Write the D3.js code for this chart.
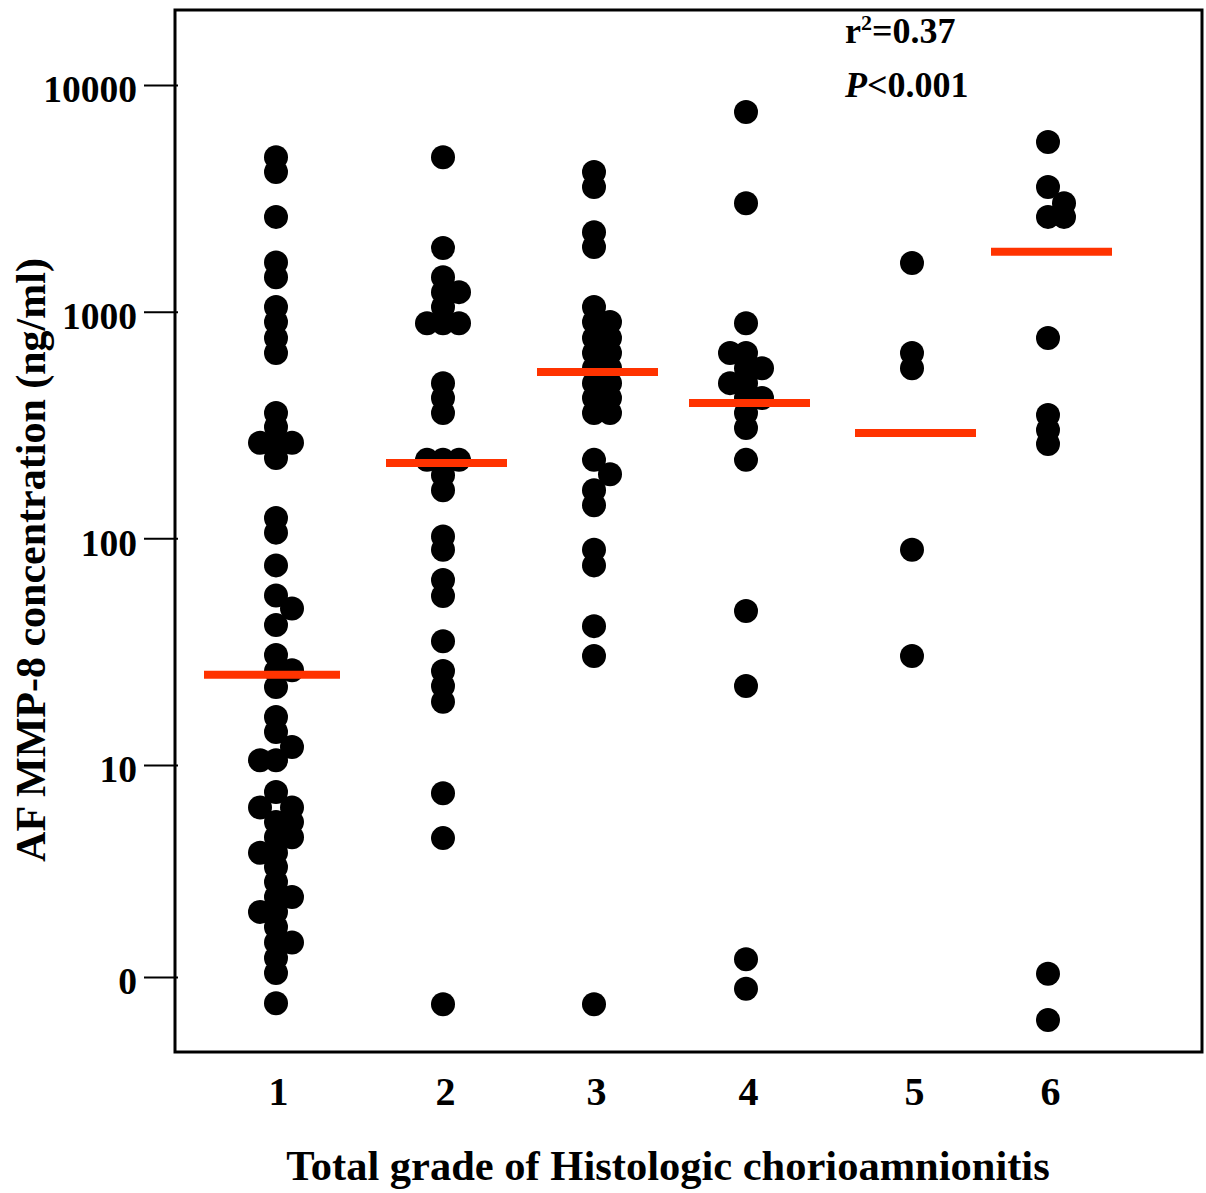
<!DOCTYPE html>
<html>
<head>
<meta charset="utf-8">
<script src="https://cdn.jsdelivr.net/npm/d3@7"></script>
<style>
  body { margin: 0; background: #fff; }
  text { font-family: "Liberation Serif", "Times New Roman", serif; font-weight: bold; fill: #000; }
</style>
</head>
<body>
<div class="container"></div>
<script>
// ---------- DATA ----------
var grades = [1, 2, 3, 4, 5, 6];
var gradeLabels = ["1", "2", "3", "4", "5", "6"];

var yTickValues = [1.16, 10, 100, 1000, 10000];
var yTickLabels = ["0", "10", "100", "1000", "10000"];

// AF MMP-8 (ng/ml) per grade, and which column of the dot strip each point sits in (-1 left, 0 middle, 1 right)
var grade1 = [4800, 4130, 2620, 1650, 1420, 1050, 900, 765, 658, 357, 310, 264, 264, 264, 226, 123, 106, 76, 56, 49,
              41.5, 30.6, 26.2, 25.9, 22.1, 16.3, 14, 12, 10.5, 10.5, 7.6, 6.5, 6.5, 5.6, 5.6, 4.8, 4.8, 4.1, 4.1,
              3.55, 3.05, 2.62, 2.62, 2.25, 2.25, 1.93, 1.65, 1.65, 1.41, 1.21, 0.89];
var lanes1 = [0,0,0,0,0,0,0,0,0,0,0, -1,0,1, 0,0,0,0,0, 1, 0,0, 1, 0,0,0,0, 1, -1,0, 0, -1,1, 0,1, 0,1, -1,0,
              0,0,0, 1, -1,0, 0,0, 1, 0,0,0];
var grade2 = [4800, 1910, 1420, 1220, 1220, 1050, 890, 890, 890, 484, 416, 357, 222, 222, 222, 190, 163, 102, 89,
              65.5, 55.7, 35.2, 26, 22.3, 19, 7.5, 4.76, 0.88];
var lanes2 = [0,0,0,0,1,0,-1,0,1,0,0,0,-1,0,1,0,0,0,0,0,0,0,0,0,0,0,0,0];
var grade3 = [4130, 3550, 2240, 1930, 1050, 900, 900, 765, 765, 658, 658, 563, 563, 484, 484, 416, 416, 357, 357,
              222, 192, 163, 140, 89, 76, 41, 30.3, 0.88];
var lanes3 = [0,0,0,0,0,0,1,0,1,0,1,0,1,0,1,0,1,0,1,0,1,0,0,0,0,0,0,0];
var grade4 = [7600, 3010, 890, 658, 658, 563, 563, 484, 484, 416, 416, 357, 307, 222, 47.8, 22.3, 1.39, 1.03];
var lanes4 = [0,0,0,-1,0,0,1,-1,0,0,1,0,0,0,0,0,0,0];
var grade5 = [1640, 658, 563, 89, 30.3];
var lanes5 = [0,0,0,0,0];
var grade6 = [5610, 3550, 3010, 2620, 2620, 765, 350, 301, 261, 1.2, 0.75];
var lanes6 = [0,0,1,0,1,0,0,0,0,0,0];

var medians = [25, 215, 542, 396, 292, 1840];

var width = 1206,
    height = 1193;

var frame = { left: 175, top: 10, right: 1202, bottom: 1052 };

var svg = d3.select(".container").append("svg")
    .attr("width", width)
    .attr("height", height);

// ---------- SCALES ----------
var x = d3.scaleLinear()
    .domain(grades)
    .range([276, 443, 594, 746, 912, 1048]);

var y = d3.scaleLog()
    .domain([0.542, 21430])
    .range([frame.bottom, frame.top]);

var laneStep = 16;

// flatten the groups into points
var groups = [grade1, grade2, grade3, grade4, grade5, grade6];
var lanes = [lanes1, lanes2, lanes3, lanes4, lanes5, lanes6];
var points = [];
groups.forEach(function(vals, gi) {
  vals.forEach(function(v, i) {
    points.push({ grade: grades[gi], value: v, lane: lanes[gi][i] });
  });
});

// ---------- FRAME ----------
svg.append("rect")
    .attr("x", frame.left)
    .attr("y", frame.top)
    .attr("width", frame.right - frame.left)
    .attr("height", frame.bottom - frame.top)
    .attr("fill", "none")
    .attr("stroke", "#000")
    .attr("stroke-width", 3);

// ---------- AXES ----------
var yAxis = svg.append("g")
    .attr("transform", "translate(" + (frame.left + 3) + ",0)")
    .call(d3.axisLeft(y)
      .tickValues(yTickValues)
      .tickFormat(function(d, i) { return yTickLabels[i]; })
      .tickSize(34)
      .tickPadding(7));
yAxis.select(".domain").remove();
yAxis.selectAll("line").attr("stroke", "#000").attr("stroke-width", 2);
yAxis.attr("font-family", null).attr("font-size", null);
yAxis.selectAll("text")
    .attr("dy", "0.45em")
    .style("font-size", "37.5px");

var xAxis = svg.append("g")
    .attr("transform", "translate(0," + frame.bottom + ")")
    .call(d3.axisBottom(x)
      .tickValues(grades)
      .tickFormat(function(d, i) { return gradeLabels[i]; })
      .tickSize(0));
xAxis.select(".domain").remove();
xAxis.attr("font-family", null).attr("font-size", null);
xAxis.selectAll("text")
    .attr("y", 53)
    .attr("dy", null)
    .attr("dx", 2)
    .style("font-size", "40px");

// axis titles
svg.append("text")
    .attr("x", 668)
    .attr("y", 1180)
    .attr("text-anchor", "middle")
    .style("font-size", "42.5px")
    .text("Total grade of Histologic chorioamnionitis");

svg.append("text")
    .attr("transform", "translate(45,560) rotate(-90)")
    .attr("text-anchor", "middle")
    .style("font-size", "42px")
    .text("AF MMP-8 concentration (ng/ml)");

// ---------- DOTS ----------
svg.selectAll(".dot")
    .data(points)
    .enter().append("circle")
    .attr("class", "dot")
    .attr("cx", function(d) { return x(d.grade) + d.lane * laneStep; })
    .attr("cy", function(d) { return y(d.value); })
    .attr("r", 12)
    .attr("fill", "#000");

// ---------- MEDIANS ----------
svg.selectAll(".median")
    .data(medians)
    .enter().append("line")
    .attr("class", "median")
    .attr("x1", function(d, i) { return x(grades[i]) + (i === 0 ? -72 : -57); })
    .attr("x2", function(d, i) { return x(grades[i]) + 64; })
    .attr("y1", function(d) { return y(d); })
    .attr("y2", function(d) { return y(d); })
    .attr("stroke", "#ff3300")
    .attr("stroke-width", 8);

// ---------- STATS ----------
var r2 = svg.append("text")
    .attr("x", 845)
    .attr("y", 43)
    .style("font-size", "36px");
r2.append("tspan").text("r");
r2.append("tspan").attr("dy", -13).style("font-size", "22px").text("2");
r2.append("tspan").attr("dy", 13).text("=0.37");

var p = svg.append("text")
    .attr("x", 845)
    .attr("y", 97)
    .style("font-size", "36px");
p.append("tspan").style("font-style", "italic").text("P");
p.append("tspan").text("<0.001");
</script>
</body>
</html>
